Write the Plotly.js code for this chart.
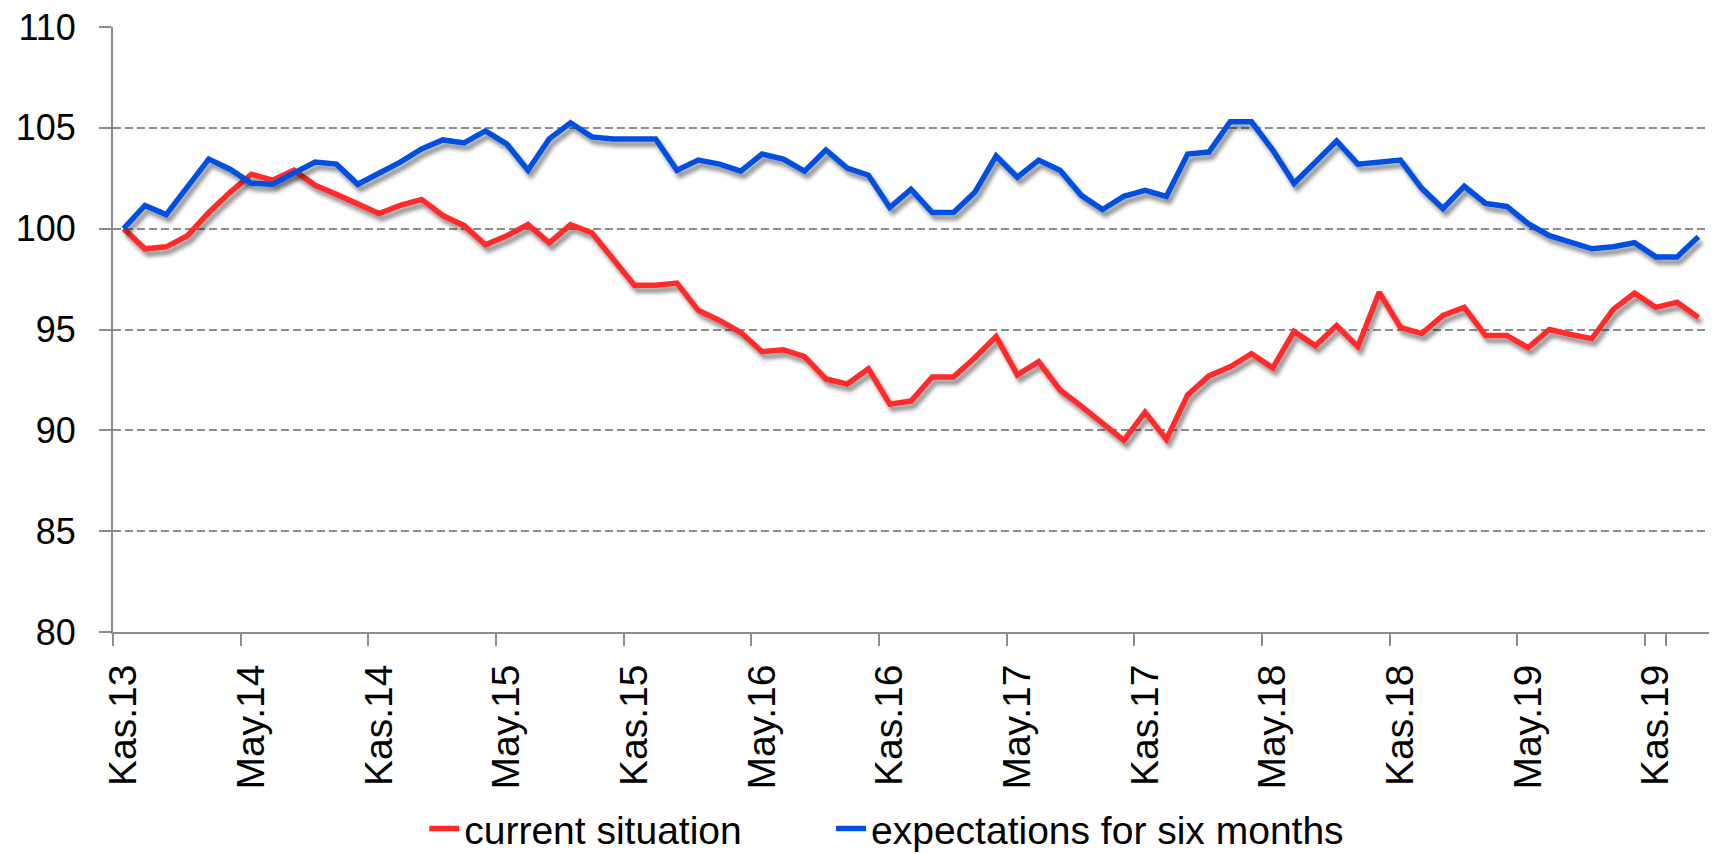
<!DOCTYPE html>
<html>
<head>
<meta charset="utf-8">
<script src="https://cdn.plot.ly/plotly-3.0.1.min.js"></script>
<style>
  html, body { margin: 0; padding: 0; background: #fff; }
  #chart { width: 1714px; height: 854px; }
</style>
</head>
<body>
<div id="chart"></div>
<script>
// Month categories (Turkish abbreviations), Nov 2013 – Jan 2020
const months = [
  "Kas.13","Ara.13",
  "Oca.14","Şub.14","Mar.14","Nis.14","May.14","Haz.14","Tem.14","Ağu.14","Eyl.14","Eki.14","Kas.14","Ara.14",
  "Oca.15","Şub.15","Mar.15","Nis.15","May.15","Haz.15","Tem.15","Ağu.15","Eyl.15","Eki.15","Kas.15","Ara.15",
  "Oca.16","Şub.16","Mar.16","Nis.16","May.16","Haz.16","Tem.16","Ağu.16","Eyl.16","Eki.16","Kas.16","Ara.16",
  "Oca.17","Şub.17","Mar.17","Nis.17","May.17","Haz.17","Tem.17","Ağu.17","Eyl.17","Eki.17","Kas.17","Ara.17",
  "Oca.18","Şub.18","Mar.18","Nis.18","May.18","Haz.18","Tem.18","Ağu.18","Eyl.18","Eki.18","Kas.18","Ara.18",
  "Oca.19","Şub.19","Mar.19","Nis.19","May.19","Haz.19","Tem.19","Ağu.19","Eyl.19","Eki.19","Kas.19","Ara.19",
  "Oca.20"
];

// Tick labels shown on the x axis
const tickLabels = ["Kas.13","May.14","Kas.14","May.15","Kas.15","May.16","Kas.16",
                    "May.17","Kas.17","May.18","Kas.18","May.19","Kas.19"];

// Series: current situation
const currentSituation = [
  100.0, 99.0, 99.1, 99.65, 100.8, 101.8, 102.7, 102.4, 102.9, 102.15,
  101.7, 101.25, 100.75, 101.15, 101.45, 100.65, 100.15, 99.2, 99.65, 100.2,
  99.3, 100.2, 99.8, 98.5, 97.2, 97.2, 97.3, 95.95, 95.45, 94.85,
  93.9, 94.0, 93.65, 92.55, 92.3, 93.05, 91.3, 91.45, 92.65, 92.65,
  93.6, 94.65, 92.75, 93.4, 92.0, 91.2, 90.35, 89.5, 90.9, 89.55,
  91.75, 92.7, 93.15, 93.8, 93.1, 94.9, 94.2, 95.2, 94.15, 96.85,
  95.1, 94.8, 95.7, 96.1, 94.7, 94.7, 94.1, 95.0, 94.75, 94.55,
  96.0, 96.8, 96.1, 96.35, 95.6
];

// Series: expectations for six months
const expectations = [
  100.0, 101.15, 100.7, 102.05, 103.45, 102.95, 102.25, 102.2, 102.75, 103.3,
  103.2, 102.2, 102.75, 103.3, 103.95, 104.4, 104.25, 104.85, 104.2, 102.9,
  104.45, 105.25, 104.55, 104.45, 104.45, 104.45, 102.9, 103.4, 103.2, 102.85,
  103.7, 103.45, 102.85, 103.9, 103.0, 102.65, 101.05, 101.95, 100.8, 100.8,
  101.8, 103.6, 102.55, 103.4, 102.9, 101.65, 100.95, 101.6, 101.9, 101.6,
  103.7, 103.8, 105.3, 105.3, 103.9, 102.25, 103.3, 104.35, 103.2, 103.3,
  103.4, 102.0, 101.0, 102.1, 101.25, 101.1, 100.25, 99.65, 99.35, 99.0,
  99.1, 99.3, 98.6, 98.6, 99.6
];

const seriesNames = ["current situation", "expectations for six months"];

const GREY = "#8c8c8c";
const FONT = "Liberation Sans, Arial, sans-serif";

const traces = [
  { x: months, y: currentSituation, name: seriesNames[0], type: "scatter", mode: "lines",
    legend: "legend", line: { color: "#ff2a2a", width: 5.5 } },
  { x: months, y: expectations, name: seriesNames[1], type: "scatter", mode: "lines",
    legend: "legend2", line: { color: "#0050e0", width: 5.5 } }
];

const legendCommon = {
  orientation: "h", xanchor: "left", y: -0.325, yanchor: "middle",
  font: { size: 39, family: FONT, color: "#000" },
  bgcolor: "rgba(0,0,0,0)"
};

const layout = {
  width: 1714, height: 854,
  margin: { l: 113, r: 5, t: 27, b: 222, autoexpand: false },
  paper_bgcolor: "#ffffff", plot_bgcolor: "#ffffff",
  font: { family: FONT, color: "#000" },
  showlegend: true,
  legend: Object.assign({}, legendCommon, { x: 0.195 }),
  legend2: Object.assign({}, legendCommon, { x: 0.4499 }),
  xaxis: {
    type: "category", categoryorder: "array", categoryarray: months,
    range: [-0.5, months.length - 0.5],
    tickmode: "array", tickvals: tickLabels, ticktext: tickLabels,
    tickson: "boundaries",
    ticks: "outside", ticklen: 12, tickwidth: 2, tickcolor: GREY,
    tickangle: -90, ticklabelstandoff: 15,
    tickfont: { size: 39, family: FONT, color: "#000" },
    showline: true, linecolor: GREY, linewidth: 2,
    showgrid: false, zeroline: false, fixedrange: true
  },
  yaxis: {
    range: [80, 110], tickmode: "linear", tick0: 80, dtick: 5,
    ticks: "outside", ticklen: 12, tickwidth: 2, tickcolor: GREY,
    ticklabelstandoff: 16,
    tickfont: { size: 36, family: FONT, color: "#000" },
    showline: true, linecolor: GREY, linewidth: 2,
    showgrid: true, gridcolor: GREY, gridwidth: 2, griddash: "8px,4px",
    zeroline: false, fixedrange: true
  }
};

Plotly.newPlot("chart", traces, layout, { displayModeBar: false, staticPlot: true }).then(function (gd) {
  const svg = gd.querySelector("svg.main-svg");
  const ns = "http://www.w3.org/2000/svg";
  let defs = svg.querySelector("defs");
  if (!defs) { defs = document.createElementNS(ns, "defs"); svg.insertBefore(defs, svg.firstChild); }
  const f = document.createElementNS(ns, "filter");
  f.setAttribute("id", "lineShadow");
  f.setAttribute("filterUnits", "userSpaceOnUse");
  f.setAttribute("x", "-200"); f.setAttribute("y", "-200");
  f.setAttribute("width", "3000"); f.setAttribute("height", "2000");
  f.innerHTML =
    '<feGaussianBlur in="SourceAlpha" stdDeviation="2.2" result="b"/>' +
    '<feOffset in="b" dx="3" dy="5" result="o"/>' +
    '<feComponentTransfer in="o" result="s"><feFuncA type="linear" slope="0.45"/></feComponentTransfer>' +
    '<feMerge><feMergeNode in="s"/><feMergeNode in="SourceGraphic"/></feMerge>';
  defs.appendChild(f);
  gd.querySelectorAll(".scatterlayer .trace").forEach(function (g) {
    g.setAttribute("filter", "url(#lineShadow)");
  });
});
</script>
</body>
</html>
